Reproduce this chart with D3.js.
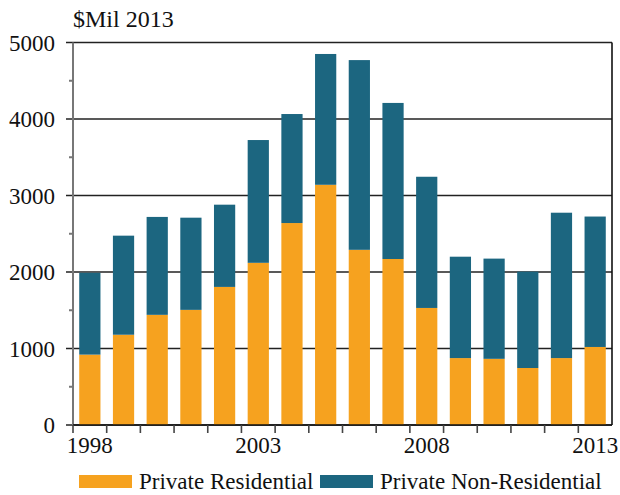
<!DOCTYPE html>
<html>
<head>
<meta charset="utf-8">
<script src="https://cdn.jsdelivr.net/npm/d3@7"></script>
<style>
  body { margin: 0; background: #fff; }
  svg text { font-family: "Liberation Serif", "Times New Roman", Times, serif; }
</style>
</head>
<body>
<svg id="chart" width="620" height="495"></svg>
<script>
const years = ['1998','1999','2000','2001','2002','2003','2004','2005','2006','2007','2008','2009','2010','2011','2012','2013'];
const residential = [920,1180,1440,1505,1805,2120,2640,3140,2290,2170,1530,875,865,745,875,1020];
const nonResidential = [1070,1295,1280,1205,1075,1605,1425,1710,2480,2040,1715,1325,1310,1260,1900,1705];
const yTicks = [0,1000,2000,3000,4000,5000];
const xLabels = ['1998','2003','2008','2013'];
const seriesNames = ['Private Residential','Private Non-Residential'];
const colors = ['#f6a21f','#1c6680'];

const margin = {top: 42.5, right: 8, bottom: 70, left: 73};
const width = 620 - margin.left - margin.right;
const height = 495 - margin.top - margin.bottom;

let svg = d3.select('#chart');
let g = svg.append('g').attr('transform', 'translate(' + margin.left + ',' + margin.top + ')');

let x = d3.scaleBand().domain(years).range([0, width]).paddingInner(0.37).paddingOuter(0.185);
let xEdge = d3.scaleLinear().domain([0, years.length]).range([0, width]);
let y = d3.scaleLinear().domain([0, 5000]).range([height, 0]);

// stacked data
let table = years.map(function(yr, i) {
	return {year: yr, res: residential[i], non: nonResidential[i]};
});
let stack = d3.stack().keys(['res','non'])(table);

// gridlines
g.selectAll('line.grid')
	.data(yTicks)
	.enter()
	.append('line')
	.attr('x1', -7)
	.attr('x2', width)
	.attr('y1', function(d) { return y(d); })
	.attr('y2', function(d) { return y(d); })
	.attr('stroke', '#222')
	.attr('stroke-width', 1.6);

// bars
g.selectAll('g.series')
	.data(stack)
	.enter()
	.append('g')
	.attr('fill', function(d, i) { return colors[i]; })
	.selectAll('rect')
	.data(function(d) { return d; })
	.enter()
	.append('rect')
	.attr('x', function(d) { return x(d.data.year); })
	.attr('width', x.bandwidth())
	.attr('y', function(d) { return y(d[1]); })
	.attr('height', function(d) { return y(d[0]) - y(d[1]); });

// y axis line + minor ticks
g.append('line')
	.attr('x1', 0).attr('x2', 0)
	.attr('y1', 0).attr('y2', height)
	.attr('stroke', '#777')
	.attr('stroke-width', 2);
g.selectAll('line.minor')
	.data(d3.range(500, 5000, 1000))
	.enter()
	.append('line')
	.attr('x1', -4).attr('x2', 0)
	.attr('y1', function(d) { return y(d); })
	.attr('y2', function(d) { return y(d); })
	.attr('stroke', '#777')
	.attr('stroke-width', 2);

// right border
g.append('line')
	.attr('x1', width).attr('x2', width)
	.attr('y1', 0).attr('y2', height)
	.attr('stroke', '#111')
	.attr('stroke-width', 1.6);

// x axis line and ticks between bars
g.append('line')
	.attr('x1', 0).attr('x2', width)
	.attr('y1', height).attr('y2', height)
	.attr('stroke', '#111')
	.attr('stroke-width', 1.6);
g.selectAll('line.xtick')
	.data(d3.range(0, years.length))
	.enter()
	.append('line')
	.attr('x1', function(d) { return xEdge(d); })
	.attr('x2', function(d) { return xEdge(d); })
	.attr('y1', height)
	.attr('y2', height + 8)
	.attr('stroke', '#444')
	.attr('stroke-width', 1.6);

// y labels
g.selectAll('text.ylab')
	.data(yTicks)
	.enter()
	.append('text')
	.attr('x', -18)
	.attr('y', function(d) { return y(d) + 8; })
	.attr('text-anchor', 'end')
	.attr('font-size', 23)
	.attr('fill', '#111')
	.text(function(d) { return d; });

// x labels
g.selectAll('text.xlab')
	.data(xLabels)
	.enter()
	.append('text')
	.attr('x', function(d) { return x(d) + x.bandwidth() / 2; })
	.attr('y', height + 28)
	.attr('text-anchor', 'middle')
	.attr('font-size', 23)
	.attr('fill', '#111')
	.text(function(d) { return d; });

// title
svg.append('text')
	.attr('x', 73)
	.attr('y', 27)
	.attr('font-size', 24)
	.attr('fill', '#111')
	.text('$Mil 2013');

// legend
const legendX = [79, 320];
seriesNames.forEach(function(name, i) {
	svg.append('rect')
		.attr('x', legendX[i])
		.attr('y', 475)
		.attr('width', 53)
		.attr('height', 13)
		.attr('fill', colors[i]);
	svg.append('text')
		.attr('x', legendX[i] + 60)
		.attr('y', 489)
		.attr('font-size', 23)
		.attr('fill', '#111')
		.text(name);
});
</script>
</body>
</html>
